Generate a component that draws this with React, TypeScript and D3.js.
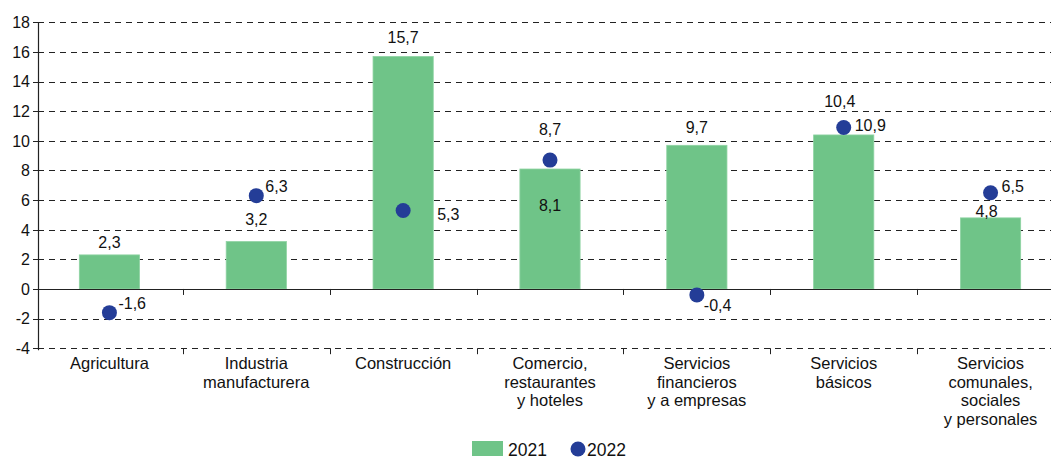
import React from "react";
import * as d3 from "d3";

const categories: string[][] = [
  ["Agricultura"],
  ["Industria", "manufacturera"],
  ["Construcción"],
  ["Comercio,", "restaurantes", "y hoteles"],
  ["Servicios", "financieros", "y a empresas"],
  ["Servicios", "básicos"],
  ["Servicios", "comunales,", "sociales", "y personales"],
];
const values2021 = [2.3, 3.2, 15.7, 8.1, 9.7, 10.4, 4.8];
const values2022 = [-1.6, 6.3, 5.3, 8.7, -0.4, 10.9, 6.5];
const yTicks = [-4, -2, 0, 2, 4, 6, 8, 10, 12, 14, 16, 18];
const seriesNames = ["2021", "2022"];

// label placement (layout, not data)
const barLabelDx = [0, 0, 0, 0, 0, -4, -4];
const barLabelDy = [-6.5, -17, -13.5, 42, -12.5, -28, -1];
const dotLabelDx = [9, 9, 34, 0, 7, 11, 11];
const dotLabelDy = [-4, -4, 9.5, -25, 16, 3.5, -1];
const dotLabelAnchor = ["start", "start", "start", "middle", "start", "start", "start"];

const W = 1051;
const H = 459;
const BAR = "#6FC488";
const DOT = "#243D97";
const FONT = "'Liberation Sans', Arial, sans-serif";

const fmt = (v: number) => String(v).replace(".", ",");

export default function App() {
  const x = d3
    .scaleBand<number>()
    .domain(d3.range(categories.length))
    .range([36, 1064])
    .padding(0);
  const y = d3.scaleLinear().domain([-4, 18]).range([348.2, 22.4]);
  const axisX = 38;
  const bw = x.bandwidth() * 0.41;
  const cx = (i: number) => (x(i) as number) + x.bandwidth() / 2;

  return (
    <svg
      width={W}
      height={H}
      style={{ position: "absolute", left: 0, top: 0, background: "#fff" }}
      fontFamily={FONT}
    >
      {/* gridlines */}
      {yTicks
        .filter((t) => t !== 0)
        .map((t) => (
          <line
            key={"g" + t}
            x1={axisX}
            x2={W}
            y1={Math.round(y(t)) + 0.5}
            y2={Math.round(y(t)) + 0.5}
            stroke="#222"
            strokeWidth={1}
            strokeDasharray="6,5"
          />
        ))}
      {/* bars */}
      {values2021.map((v, i) => (
        <rect
          key={"b" + i}
          x={cx(i) - bw / 2}
          width={bw}
          y={y(Math.max(v, 0))}
          height={Math.abs(y(v) - y(0))}
          fill={BAR}
          stroke="#8ed3a2"
          strokeWidth={0.8}
        />
      ))}
      {/* zero line */}
      <line
        x1={axisX - 5}
        x2={W}
        y1={Math.round(y(0)) + 0.5}
        y2={Math.round(y(0)) + 0.5}
        stroke="#222"
        strokeWidth={1.2}
      />
      {/* left axis */}
      <line
        x1={axisX + 0.5}
        x2={axisX + 0.5}
        y1={y(18)}
        y2={y(-4) + 2}
        stroke="#222"
        strokeWidth={1.2}
      />
      {yTicks.map((t) => (
        <g key={"t" + t}>
          <line
            x1={axisX - 5}
            x2={axisX}
            y1={Math.round(y(t)) + 0.5}
            y2={Math.round(y(t)) + 0.5}
            stroke="#222"
          />
          <text
            x={axisX - 8}
            y={y(t) + 5.8}
            textAnchor="end"
            fontSize={16}
            fill="#111"
          >
            {t}
          </text>
        </g>
      ))}
      {/* category boundary ticks */}
      {d3.range(1, categories.length + 1).map((i) => {
        const bx = Math.round((x(0) as number) + i * x.bandwidth()) + 0.5;
        return (
          <g key={"ct" + i}>
            <line x1={bx} x2={bx} y1={y(0)} y2={y(0) + 6} stroke="#222" />
            <line x1={bx} x2={bx} y1={y(-4)} y2={y(-4) + 6} stroke="#222" />
          </g>
        );
      })}
      {/* bar labels */}
      {values2021.map((v, i) => (
        <text
          key={"bl" + i}
          x={cx(i) + barLabelDx[i]}
          y={y(v) + barLabelDy[i]}
          textAnchor="middle"
          fontSize={16}
          fill="#111"
        >
          {fmt(v)}
        </text>
      ))}
      {/* dots */}
      {values2022.map((v, i) => (
        <circle key={"d" + i} cx={cx(i)} cy={y(v)} r={7.5} fill={DOT} />
      ))}
      {values2022.map((v, i) => (
        <text
          key={"dl" + i}
          x={cx(i) + dotLabelDx[i]}
          y={y(v) + dotLabelDy[i]}
          textAnchor={dotLabelAnchor[i] as any}
          fontSize={16}
          fill="#111"
        >
          {fmt(v)}
        </text>
      ))}
      {/* category labels */}
      {categories.map((lines, i) => (
        <text
          key={"c" + i}
          x={cx(i)}
          y={369}
          textAnchor="middle"
          fontSize={16.5}
          fill="#111"
        >
          {lines.map((l, j) => (
            <tspan key={j} x={cx(i)} dy={j === 0 ? 0 : 18.5}>
              {l}
            </tspan>
          ))}
        </text>
      ))}
      {/* legend */}
      <rect x={472} y={441} width={31} height={15} fill={BAR} />
      <text x={508} y={455.5} fontSize={17.5} fill="#111">
        {seriesNames[0]}
      </text>
      <circle cx={578} cy={449} r={7.5} fill={DOT} />
      <text x={587} y={455.5} fontSize={17.5} fill="#111">
        {seriesNames[1]}
      </text>
    </svg>
  );
}
